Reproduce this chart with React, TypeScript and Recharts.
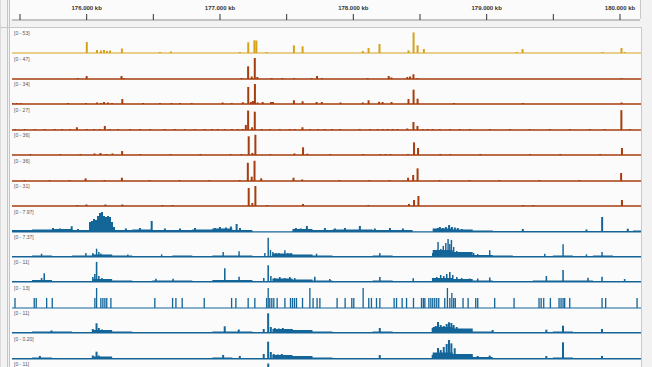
import React from 'react';
import { BarChart, Bar, AreaChart, Area, XAxis, YAxis } from 'recharts';

// ---- genomic window (kb) ----
const X_MIN_KB = 175440;
const X_MAX_KB = 180150;
const RULER_TICKS_KB = [175500, 176000, 176500, 177000, 177500, 178000, 178500, 179000, 179500, 180000];

// ---- track scales & labels ----
const TRACK_MAX = [53, 47, 34, 27, 36, 36, 31, 7.97, 7.37, 11, 13, 11, 0.2, 11];
const TRACK_LABELS = ['[0 - 53]', '[0 - 47]', '[0 - 34]', '[0 - 27]', '[0 - 36]', '[0 - 36]', '[0 - 31]', '[0 - 7.97]', '[0 - 7.37]', '[0 - 11]', '[0 - 13]', '[0 - 11]', '[0 - 0.20]', '[0 - 11]'];

// ---- background (low signal) bins for coverage tracks, kb ----
const BG_POS_KB = [175440, 175590, 175740, 175890, 176040, 176190, 176340, 176490, 176640, 176790, 176940, 177090, 177240, 177390, 177540, 177690, 177840, 177990, 178140, 178290, 178440, 178590, 178740, 178890, 179040, 179190, 179340, 179490, 179640, 179790, 179940, 180090, 180150];

// ---- peaks [position kb, value] ----
const T1_PEAKS = [[176000, 27.7], [176076, 7.6], [176106, 6.3], [176129, 7.6], [176151, 5], [176174, 6.3], [176263, 11.3], [176548, 2.5], [176630, 3.8], [177147, 2.5], [177209, 27], [177255, 32], [177270, 31.5], [177347, 2.5], [177551, 19.4], [177616, 16.9], [178067, 5], [178110, 12.6], [178192, 22.7], [178409, 6.8], [178447, 52], [178477, 19.4], [178524, 10], [179218, 2.5], [179263, 10], [179862, 2.5], [180004, 12.6], [180028, 2.5]];

const T2_PEAKS = [[175932, 2.2], [176000, 6.7], [176261, 6.7], [176278, 2.2], [177159, 2.2], [177209, 28.4], [177236, 5.6], [177259, 47], [177278, 4.5], [177386, 2.2], [177466, 2.2], [177551, 2.2], [177683, 2.2], [177725, 6.7], [177760, 2.2], [178105, 2.2], [178262, 6.7], [178282, 3.4], [178401, 4.5], [178422, 5.6], [178447, 10.5], [178477, 2.2], [180004, 2.2]];

const T3_PEAKS = [[175445, 1.6], [175475, 1.6], [175505, 1.6], [175859, 1.6], [175994, 1.6], [176076, 2.4], [176106, 1.6], [176129, 3.2], [176159, 2.4], [176189, 1.6], [176266, 8.1], [176421, 1.6], [176548, 1.6], [176635, 1.6], [176698, 1.6], [176785, 1.6], [177017, 2.4], [177085, 1.6], [177169, 2.8], [177209, 27.5], [177229, 3.2], [177244, 4.9], [177259, 32.4], [177279, 2.4], [177317, 3.2], [177379, 3.2], [177394, 3.2], [177551, 6], [177616, 4.4], [177721, 3.2], [177760, 3.2], [177900, 2.4], [178067, 2.4], [178110, 6], [178189, 3.7], [178215, 3.2], [178282, 3.2], [178409, 8.1], [178447, 23.2], [178477, 8.6], [178750, 1.6], [179265, 1.6], [180004, 2.4]];

const T4_PEAKS = [[175463, 1.3], [175537, 1.3], [175612, 1.3], [175687, 1.3], [175762, 1.3], [175814, 1.3], [175874, 1.3], [175927, 3.5], [176001, 1.3], [176054, 1.3], [176099, 1.3], [176136, 5.2], [176174, 1.3], [176234, 1.3], [176323, 1.3], [176398, 1.3], [176473, 1.3], [176585, 1.3], [176660, 1.3], [176735, 1.3], [176810, 1.3], [176885, 1.3], [176937, 1.3], [176982, 1.3], [177034, 1.3], [177087, 1.3], [177132, 1.3], [177169, 1.3], [177192, 6.5], [177209, 25], [177239, 3.5], [177259, 23.6], [177311, 1.3], [177371, 1.3], [177446, 1.3], [177521, 1.3], [177558, 1.3], [177616, 3.5], [177671, 1.3], [177731, 1.3], [177783, 1.3], [177835, 1.3], [177895, 1.3], [178045, 1.3], [178120, 1.3], [178180, 1.3], [178217, 1.3], [178255, 1.3], [178292, 1.3], [178329, 1.3], [178401, 1.9], [178447, 10.3], [178477, 5.2], [178517, 1.3], [178554, 1.3], [178591, 1.3], [178644, 1.3], [178719, 1.3], [178793, 1.3], [178868, 1.3], [179018, 1.3], [179168, 1.3], [179317, 1.3], [179467, 1.3], [179617, 1.3], [179766, 1.3], [179880, 1.3], [180004, 25.5], [180066, 1.3]];

const T5_PEAKS = [[175575, 1.7], [175799, 1.7], [175949, 1.7], [176054, 2.6], [176099, 3.4], [176144, 1.7], [176189, 2.6], [176261, 6.8], [176398, 1.7], [176623, 1.7], [176847, 1.7], [177072, 1.7], [177154, 1.7], [177209, 32], [177236, 3.4], [177259, 34.7], [177371, 1.7], [177551, 2.6], [177616, 13.2], [177648, 2.2], [177820, 1.7], [178067, 1.7], [178195, 1.7], [178232, 1.7], [178270, 1.7], [178401, 1.7], [178447, 21.7], [178477, 12], [178644, 1.7], [178719, 1.7], [178943, 1.7], [179317, 1.7], [179542, 1.7], [179841, 1.7], [180004, 12]];

const T6_PEAKS = [[175537, 1.7], [175725, 1.7], [175874, 1.7], [175994, 4.6], [176136, 1.7], [176266, 5.6], [176473, 1.7], [176698, 1.7], [176922, 1.7], [177147, 1.7], [177209, 31.3], [177238, 7.4], [177259, 34.7], [177309, 4.6], [177551, 5.6], [177616, 2.6], [177895, 1.7], [178120, 1.7], [178270, 1.7], [178409, 5.6], [178447, 10.3], [178480, 21.7], [178644, 1.7], [178868, 1.7], [179093, 1.7], [179392, 1.7], [179692, 1.7], [180004, 13.7]];

const T7_PEAKS = [[175927, 1.5], [175994, 2.2], [176136, 2.2], [176263, 2.2], [176563, 1.5], [176638, 1.5], [177209, 26.6], [177236, 4.4], [177259, 29.6], [177347, 1.5], [177616, 3], [178105, 1.5], [178409, 3], [178447, 8.9], [178480, 14.8], [179265, 1.5], [179340, 1.5], [180004, 8.9]];

const T8_BG = [0.76, 0.95, 1.14, 0.76, 3.8, 0.76, 0.95, 0.76, 0.76, 0.95, 1.33, 0.76, 0.19, 0.19, 1.14, 0.76, 0.95, 0.95, 0.76, 0.76, 0.19, 1.33, 0.95, 0.57, 0.38, 0.38, 0.38, 0.38, 0.38, 0.38, 0.38, 0.57];
const T8_PEAKS = [[175747, 1.52], [175799, 1.33], [175887, 2.17], [175934, 1.14], [176024, 3.8], [176039, 4.18], [176054, 4.94], [176069, 4.56], [176084, 6.08], [176099, 7.22], [176114, 7.6], [176129, 6.08], [176144, 5.7], [176159, 6.08], [176174, 5.7], [176189, 3.8], [176204, 1.9], [176293, 1.33], [176398, 1.52], [176486, 4.18], [176585, 1.33], [176698, 1.33], [176810, 1.52], [176960, 1.52], [176997, 1.9], [177042, 1.71], [177079, 2.09], [177122, 3.04], [177147, 1.52], [177566, 1.52], [177603, 1.33], [177648, 2.28], [177783, 1.52], [177858, 1.33], [177933, 1.52], [178045, 2.28], [178157, 1.33], [178270, 1.52], [178367, 1.33], [178629, 1.52], [178644, 1.9], [178666, 1.52], [178689, 1.9], [178713, 2.66], [178734, 1.9], [178756, 1.71], [178778, 1.52], [178808, 1.14], [179265, 1.14], [179742, 0.95], [179859, 5.7], [180051, 1.25]];

const T9_BG = [0.35, 0.53, 0.35, 0.53, 0.88, 0.53, 0.35, 0.35, 0.53, 0.35, 0.53, 0.53, 0.35, 1.23, 0.88, 0.53, 0.35, 0.35, 0.53, 0.35, 0.35, 2.46, 1.76, 0.7, 0.53, 0.35, 0.35, 0.53, 0.35, 0.53, 0.35, 0.35];
const T9_PEAKS = [[175662, 1.16], [175994, 1.4], [176046, 1.4], [176074, 2.91], [176091, 1.76], [176106, 1.23], [176308, 0.88], [176561, 0.95], [177022, 1.76], [177141, 2], [177334, 1.4], [177359, 6.77], [177376, 2.46], [177394, 1.76], [177416, 1.4], [177439, 1.4], [177484, 2.35], [177506, 1.4], [177529, 1.4], [177721, 1.16], [178195, 1.4], [178591, 1.4], [178614, 1.76], [178631, 5.27], [178651, 2.81], [178670, 3.86], [178689, 4.91], [178706, 6.32], [178719, 4.56], [178731, 5.97], [178748, 3.51], [178771, 2.11], [178793, 1.4], [178823, 1.76], [178861, 1.4], [178898, 1.4], [178928, 1.05], [179018, 2.35], [179430, 1.16], [179567, 4.46], [179742, 0.95], [179859, 1.76]];

const T10_BG = [0.52, 1.05, 0.52, 0.52, 1.57, 0.79, 0.52, 0.79, 0.79, 0.52, 1.05, 1.05, 0.52, 1.83, 1.31, 0.79, 0.52, 0.52, 0.79, 0.52, 0.52, 2.1, 1.57, 0.79, 0.52, 0.52, 0.79, 0.79, 0.79, 0.52, 0.52, 0.52];
const T10_PEAKS = [[175662, 2.1], [175682, 4.56], [176046, 2.62], [176061, 4.19], [176074, 10.5], [176091, 3.14], [176114, 2.1], [176518, 1.73], [176647, 1.73], [177034, 7.18], [177141, 2.78], [177326, 2.1], [177359, 8.75], [177379, 3.14], [177409, 2.1], [177446, 2.62], [177484, 2.1], [177521, 2.62], [177558, 2.1], [177708, 2.78], [177820, 1.57], [178195, 2.62], [178445, 1.94], [178591, 2.1], [178621, 2.62], [178651, 3.67], [178674, 3.14], [178696, 4.19], [178719, 5.24], [178741, 3.67], [178771, 2.62], [178808, 2.1], [178868, 1.83], [178928, 1.83], [179018, 2.36], [179442, 3.14], [179567, 6.29], [179754, 2.25], [179859, 2.78], [180028, 1.57]];

const T11_PEAKS = [[175463, 6.2], [175607, 6.2], [175622, 6.2], [175700, 6.2], [175742, 6.2], [176061, 6.2], [176074, 12.4], [176106, 6.2], [176121, 6.2], [176136, 6.2], [176150, 6.2], [176181, 6.2], [176510, 6.2], [176643, 6.2], [176668, 6.2], [176715, 6.2], [176880, 6.2], [177085, 6.2], [177117, 6.2], [177209, 6.2], [177259, 6.2], [177347, 6.2], [177359, 12.4], [177371, 6.2], [177386, 6.2], [177401, 6.2], [177426, 6.2], [177484, 6.2], [177526, 6.2], [177541, 6.2], [177556, 6.2], [177571, 6.2], [177616, 6.2], [177671, 12.4], [177695, 6.2], [177725, 6.2], [177746, 6.2], [177875, 6.2], [177935, 6.2], [177985, 6.2], [178000, 6.2], [178070, 12.4], [178112, 6.2], [178132, 6.2], [178170, 6.2], [178195, 6.2], [178302, 6.2], [178320, 6.2], [178362, 6.2], [178395, 6.2], [178447, 6.2], [178507, 6.2], [178521, 6.2], [178532, 6.2], [178562, 6.2], [178577, 6.2], [178591, 6.2], [178606, 6.2], [178621, 6.2], [178636, 6.2], [178681, 6.2], [178701, 12.4], [178719, 6.2], [178734, 9.3], [178748, 6.2], [178760, 6.2], [178818, 6.2], [178856, 6.2], [178913, 6.2], [178928, 6.2], [179055, 6.2], [179200, 6.2], [179387, 6.2], [179403, 6.2], [179422, 6.2], [179472, 6.2], [179537, 6.2], [179552, 6.2], [179567, 6.2], [179579, 6.2], [179617, 6.2], [179859, 6.2], [179886, 6.2], [180121, 6.2]];

const T12_BG = [0.52, 0.79, 0.79, 0.52, 1.57, 0.79, 0.52, 0.52, 0.52, 0.52, 0.79, 0.79, 0.52, 2.1, 1.57, 0.79, 0.52, 0.52, 0.79, 0.52, 0.52, 3.14, 2.36, 0.79, 0.52, 0.52, 0.52, 0.79, 0.52, 0.52, 0.52, 0.52];
const T12_PEAKS = [[175737, 1.31], [176046, 2.1], [176074, 5.08], [176091, 2.62], [176114, 1.83], [177034, 3.51], [177139, 1.83], [177326, 2.1], [177359, 10.32], [177379, 3.14], [177409, 2.62], [177439, 2.36], [177469, 2.62], [177499, 2.1], [177536, 2.1], [178195, 2.62], [178591, 2.62], [178614, 3.67], [178631, 5.76], [178651, 4.19], [178674, 3.67], [178696, 4.72], [178713, 5.61], [178731, 5.24], [178748, 4.19], [178771, 3.14], [178801, 2.1], [178838, 1.57], [179040, 1.57], [179442, 1.73], [179567, 3.83], [179859, 2.1]];

const T13_BG = [0.0095, 0.0143, 0.0095, 0.0095, 0.0238, 0.0095, 0.0095, 0.0095, 0.0095, 0.0095, 0.0143, 0.0095, 0.0095, 0.0381, 0.0286, 0.0143, 0.0095, 0.0095, 0.0095, 0.0095, 0.0095, 0.0619, 0.0476, 0.019, 0.0095, 0.0095, 0.0095, 0.0143, 0.0095, 0.0095, 0.0095, 0.0095];
const T13_PEAKS = [[175650, 0.029], [176046, 0.033], [176074, 0.07], [176091, 0.033], [177022, 0.038], [177147, 0.029], [177326, 0.048], [177359, 0.165], [177379, 0.067], [177401, 0.048], [177431, 0.043], [177461, 0.048], [177491, 0.038], [177521, 0.038], [178195, 0.038], [178591, 0.038], [178614, 0.057], [178631, 0.105], [178651, 0.086], [178674, 0.114], [178696, 0.143], [178713, 0.181], [178731, 0.149], [178756, 0.102], [178778, 0.048], [178808, 0.043], [178846, 0.038], [178883, 0.033], [178928, 0.029], [179018, 0.033], [179442, 0.029], [179567, 0.159], [179859, 0.029]];

const T14_PEAKS = [[176074, 3.1], [177359, 10.8], [178713, 4.5], [179567, 3.5]];

// ---- styling ----
const YELLOW = '#d6a21c';
const BROWN = '#a63d0e';
const BLUE = '#146598';
const FONT = 'Liberation Sans, Arial, sans-serif';

const W = 652;
const H = 367;
const PLOT_LEFT = 12;
const PLOT_W = 629;
const TRACK_H = 23;
const baselineOf = (i: number) => Math.round(53.4 + 25.45 * i);

const TRACKS = [
  { peaks: T1_PEAKS, bg: null, color: YELLOW, lw: 1 },
  { peaks: T2_PEAKS, bg: null, color: BROWN, lw: 1.5 },
  { peaks: T3_PEAKS, bg: null, color: BROWN, lw: 1.5 },
  { peaks: T4_PEAKS, bg: null, color: BROWN, lw: 1.5 },
  { peaks: T5_PEAKS, bg: null, color: BROWN, lw: 1.5 },
  { peaks: T6_PEAKS, bg: null, color: BROWN, lw: 1.5 },
  { peaks: T7_PEAKS, bg: null, color: BROWN, lw: 1.5 },
  { peaks: T8_PEAKS, bg: T8_BG, color: BLUE, lw: 1 },
  { peaks: T9_PEAKS, bg: T9_BG, color: BLUE, lw: 1 },
  { peaks: T10_PEAKS, bg: T10_BG, color: BLUE, lw: 1 },
  { peaks: T11_PEAKS, bg: null, color: BLUE, lw: 1 },
  { peaks: T12_PEAKS, bg: T12_BG, color: BLUE, lw: 1 },
  { peaks: T13_PEAKS, bg: T13_BG, color: BLUE, lw: 1 },
  { peaks: T14_PEAKS, bg: null, color: BLUE, lw: 1 },
];

function Track({ index }: { index: number }) {
  const t = TRACKS[index];
  const max = TRACK_MAX[index];
  const top = baselineOf(index) - 22;
  const peakData = t.peaks.map(([pos, v]) => ({ pos, v }));
  const bgData = t.bg
    ? BG_POS_KB.map((pos, k) => ({ pos, v: t.bg![Math.min(k, t.bg!.length - 1)] }))
    : null;
  return (
    <div style={{ position: 'absolute', left: PLOT_LEFT, top, width: PLOT_W, height: TRACK_H }}>
      {bgData && (
        <div style={{ position: 'absolute', left: 0, top: 0 }}>
          <AreaChart width={PLOT_W} height={TRACK_H} data={bgData} margin={{ top: 1, right: 0, bottom: 1, left: 0 }}>
            <XAxis type="number" dataKey="pos" domain={[X_MIN_KB, X_MAX_KB]} allowDataOverflow hide />
            <YAxis type="number" domain={[0, max]} allowDataOverflow hide />
            <Area type="stepAfter" dataKey="v" stroke="none" fill={t.color} fillOpacity={1} isAnimationActive={false} />
          </AreaChart>
        </div>
      )}
      <div style={{ position: 'absolute', left: 0, top: 0 }}>
        <BarChart width={PLOT_W} height={TRACK_H} data={peakData} margin={{ top: 1, right: 0, bottom: 0, left: 0 }}>
          <XAxis
            type="number"
            dataKey="pos"
            domain={[X_MIN_KB, X_MAX_KB]}
            allowDataOverflow
            height={1}
            tick={false}
            tickLine={false}
            axisLine={{ stroke: t.color, strokeWidth: t.lw }}
          />
          <YAxis type="number" domain={[0, max]} allowDataOverflow hide />
          <Bar dataKey="v" fill={t.color} barSize={2} isAnimationActive={false} />
        </BarChart>
      </div>
    </div>
  );
}

const RulerTick = (props: any) => {
  const { x, y, payload } = props;
  if (payload.value % 1000 !== 0) return <g />;
  return (
    <text x={x} y={y - 2.5} textAnchor="middle" fontSize={6} fontWeight="bold" fill="#333" fontFamily={FONT}>
      {(payload.value / 1000).toFixed(3) + ' kb'}
    </text>
  );
};

export default function App() {
  const rulerData = RULER_TICKS_KB.map((pos) => ({ pos }));
  return (
    <div style={{ position: 'absolute', left: 0, top: 0, width: W, height: H, overflow: 'hidden', background: '#f2f2f2' }}>
      {/* panels */}
      <div style={{ position: 'absolute', left: 10, top: 0, width: 630, height: 19, background: '#fbfbfb', borderRight: '1px solid #c8c8c8' }} />
      <div style={{ position: 'absolute', left: 10, top: 28, width: 631, height: 339, background: '#fbfbfb' }} />
      <div style={{ position: 'absolute', left: 0, top: 0, width: 1, height: H, background: '#dadada' }} />
      <div style={{ position: 'absolute', left: 7, top: 0, width: 1, height: H, background: '#c6c6c6' }} />
      <div style={{ position: 'absolute', left: 9, top: 0, width: 1, height: H, background: '#c6c6c6' }} />
      <div style={{ position: 'absolute', left: 0, top: 27, width: 642, height: 1, background: '#c8c8c8' }} />
      <div style={{ position: 'absolute', left: 641, top: 27, width: 1, height: 340, background: '#c8c8c8' }} />

      {/* ruler */}
      <div style={{ position: 'absolute', left: PLOT_LEFT, top: 0 }}>
        <BarChart width={PLOT_W - 1} height={21} data={rulerData} margin={{ top: 0, right: 0, bottom: 0, left: 0 }}>
          <XAxis
            type="number"
            dataKey="pos"
            orientation="top"
            domain={[X_MIN_KB, X_MAX_KB]}
            allowDataOverflow
            ticks={RULER_TICKS_KB}
            interval={0}
            height={20}
            tickSize={6}
            tickLine={{ stroke: '#333', strokeWidth: 1 }}
            axisLine={{ stroke: '#c4c4c4', strokeWidth: 2 }}
            tick={<RulerTick />}
          />
          <YAxis hide />
        </BarChart>
      </div>

      {TRACKS.map((_, i) => (
        <Track key={i} index={i} />
      ))}

      <svg width={W} height={H} style={{ position: 'absolute', left: 0, top: 0, pointerEvents: 'none' }}>
        {TRACK_LABELS.map((label, i) => (
          <text key={i} x={14} y={baselineOf(i) - 18} fontSize={5} fill="#555" fontFamily={FONT}>
            {label}
          </text>
        ))}
      </svg>
    </div>
  );
}
